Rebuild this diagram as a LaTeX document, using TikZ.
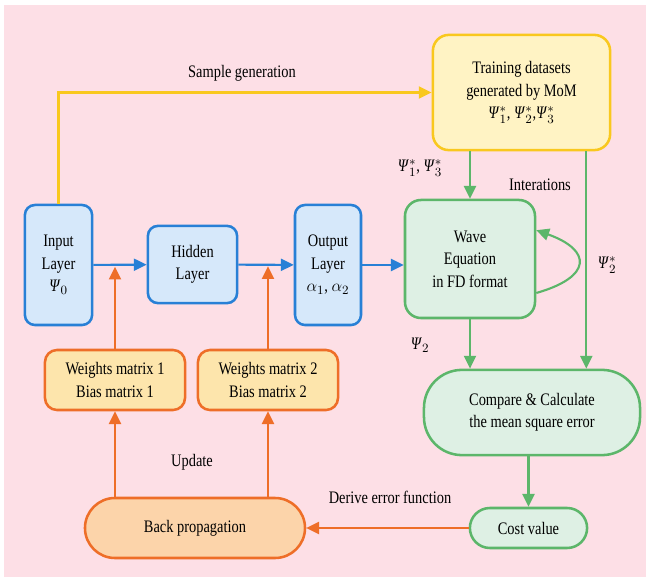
\documentclass[tikz,border=0pt]{standalone}
\usepackage{fontspec}
\setmainfont{Liberation Serif}[FakeStretch=0.82]
\usepackage{xcolor}
\usetikzlibrary{arrows.meta}

\definecolor{bgpink}{RGB}{253,223,230}
\definecolor{yfill}{RGB}{255,243,196}
\definecolor{yline}{RGB}{249,200,30}
\definecolor{bfill}{RGB}{214,232,250}
\definecolor{bline}{RGB}{40,128,214}
\definecolor{gfill}{RGB}{222,240,228}
\definecolor{gline}{RGB}{92,182,106}
\definecolor{wfill}{RGB}{253,229,172}
\definecolor{pfill}{RGB}{252,212,170}
\definecolor{oline}{RGB}{238,110,40}

\newcommand{\psin}[1]{\textit{Ψ}$_{#1}$}
\newcommand{\psis}[1]{\textit{Ψ}$^{*}_{#1}$}

\begin{document}
\begin{tikzpicture}[x=0.025cm, y=-0.025cm, font=\fontsize{12.5}{16}\selectfont,
	box/.style={draw, line width=1.8pt, align=center, inner sep=2pt},
	yellowbox/.style={box, draw=yline, fill=yfill, rounded corners=0.4cm},
	bluebox/.style={box, draw=bline, fill=bfill, rounded corners=0.25cm},
	greenbox/.style={box, draw=gline, fill=gfill},
	orangebox/.style={box, draw=oline, fill=wfill, rounded corners=0.3cm},
	link/.style={line width=1.5pt, -{Triangle[length=0.32cm,width=0.3cm]}},
	ylink/.style={link, yline},
	blink/.style={link, bline},
	glink/.style={link, gline},
	olink/.style={link, oline}]

	\fill[white] (0,0) rectangle (646,577);
	\fill[bgpink] (4,5) rectangle (646,577);

	\node[yellowbox, minimum width=4.43cm, minimum height=2.88cm] (train) at (521.5,92.5)
		{Training datasets\\generated by MoM\\\psis{1}, \psis{2},\psis{3}};
	\node[bluebox, minimum width=1.68cm, minimum height=3cm] (input) at (58.5,265)
		{Input\\Layer\\\psin{0}};
	\node[bluebox, minimum width=2.23cm, minimum height=1.93cm] (hidden) at (192.5,264.5)
		{Hidden\\Layer};
	\node[bluebox, minimum width=1.65cm, minimum height=3cm] (output) at (328,265)
		{Output\\Layer\\$\alpha_1$, $\alpha_2$};
	\node[greenbox, rounded corners=0.4cm, minimum width=3.25cm, minimum height=2.95cm] (wave) at (470,259)
		{Wave\\Equation\\in FD format};
	\node[greenbox, rounded corners=0.95cm, minimum width=5.4cm, minimum height=2.13cm] (compare) at (532,412.5)
		{Compare \& Calculate\\the mean square error};
	\node[greenbox, rounded corners=0.5cm, minimum width=2.93cm, minimum height=1cm] (cost) at (528.5,528)
		{Cost value};
	\node[orangebox, fill=pfill, rounded corners=0.75cm, minimum width=5.5cm, minimum height=1.5cm] (back) at (195,528)
		{Back propagation};
	\node[orangebox, minimum width=3.5cm, minimum height=1.5cm] (w1) at (115,380)
		{Weights matrix 1\\Bias matrix 1};
	\node[orangebox, minimum width=3.5cm, minimum height=1.5cm] (w2) at (268,380)
		{Weights matrix 2\\Bias matrix 2};

	\node (sample) at (242,73) {Sample generation};
	\node (psionethree) at (420,168) {\psis{1}, \psis{3}};
	\node (iter) at (540,185) {Interations};
	\node (psitwostar) at (607,265) {\psis{2}};
	\node (psitwo) at (420,345) {\psin{2}};
	\node (update) at (192,462) {Update};
	\node (derive) at (390,497) {Derive error function};

	\draw[ylink] (input.north) |- (train.west);
	\draw[olink, shorten >=1.2pt] (w1.north) -- (w1.north |- input.east);
	\draw[olink, shorten >=1.2pt] (w2.north) -- (w2.north |- hidden.east);
	\draw[blink] (input) -- (hidden);
	\draw[blink] (hidden) -- (output);
	\draw[blink] (output.east) -- (output.east -| wave.west);
	\draw[glink] (wave.north |- train.south) -- (wave.north);
	\draw[glink] ([xshift=1.62cm]train.south) -- ([xshift=1.62cm]train.south |- compare.north);
	\draw[glink] (wave.south) -- (wave.south |- compare.north);
	\draw[glink] ([yshift=-0.85cm]wave.east) .. controls +(1.4cm,0.4cm) and +(1.4cm,-0.5cm) .. ([yshift=0.72cm]wave.east);
	\draw[glink] (cost.north |- compare.south) -- (cost.north);
	\draw[olink] (cost) -- (back);
	\draw[olink] (w1.south |- back.north) -- (w1.south);
	\draw[olink] (w2.south |- back.north) -- (w2.south);
\end{tikzpicture}
\end{document}
